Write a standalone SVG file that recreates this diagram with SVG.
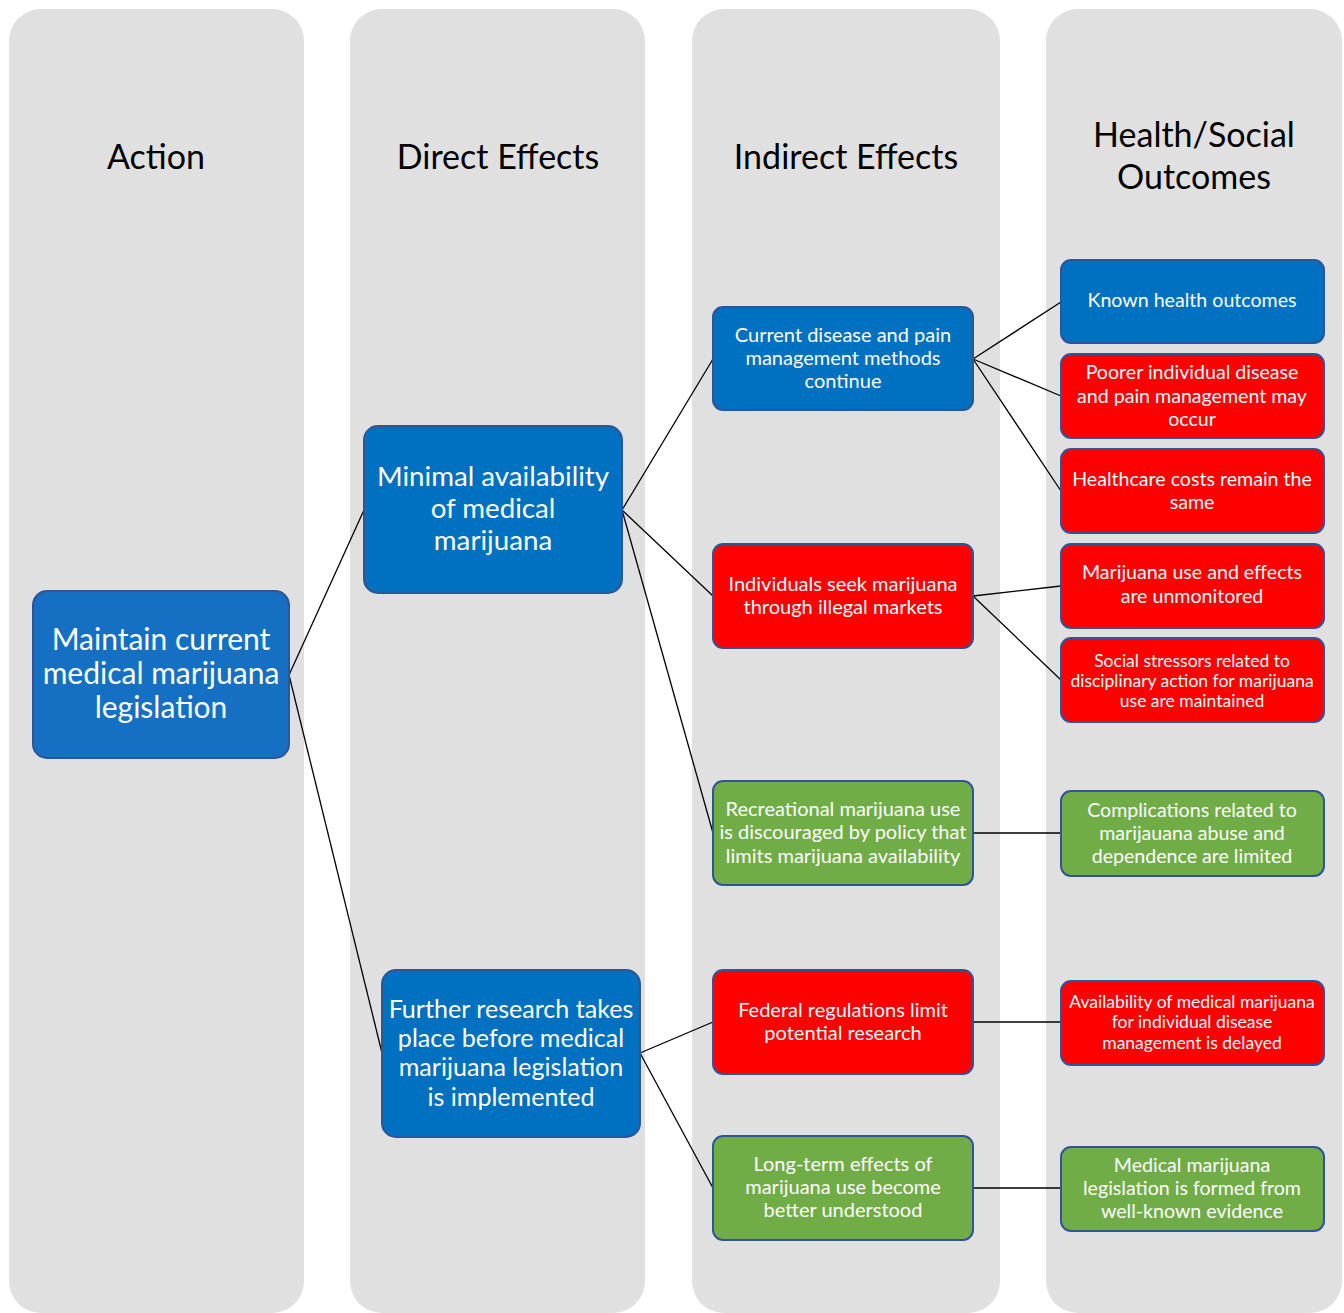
<svg xmlns="http://www.w3.org/2000/svg" width="1344" height="1313" viewBox="0 0 1344 1313">
<style>
.col{fill:#e0e0e0}
.hdr{font-family:Lato,"Open Sans",sans-serif;font-size:34px;fill:#000;text-anchor:middle}
.box{stroke:#2f5597;stroke-width:2}
.blue{fill:#0070c0}
.red{fill:#ff0000}
.green{fill:#70ad47}
.t{font-family:Lato,"Open Sans",sans-serif;fill:#fff;text-anchor:middle}
.conn line{stroke:#000;stroke-width:1.3}
</style>
<g id="columns">
<rect class="col" x="9" y="9" width="295" height="1304" rx="32"/>
<rect class="col" x="350" y="9" width="295" height="1304" rx="32"/>
<rect class="col" x="692" y="9" width="308" height="1304" rx="32"/>
<rect class="col" x="1046" y="9" width="296" height="1304" rx="32"/>
<text class="hdr" x="156" y="169">Action</text>
<text class="hdr" x="498" y="169">Direct Effects</text>
<text class="hdr" x="846" y="169">Indirect Effects</text>
<text class="hdr" x="1194" y="147">Health/Social</text>
<text class="hdr" x="1194" y="189">Outcomes</text>
</g>
<g id="connectors" class="conn">
<line x1="289" y1="675" x2="364" y2="510"/>
<line x1="289" y1="675" x2="382" y2="1053"/>
<line x1="622" y1="510" x2="713" y2="359"/>
<line x1="622" y1="510" x2="713" y2="596"/>
<line x1="622" y1="510" x2="713" y2="833"/>
<line x1="640" y1="1053" x2="713" y2="1022"/>
<line x1="640" y1="1053" x2="713" y2="1188"/>
<line x1="973" y1="359" x2="1061" y2="302"/>
<line x1="973" y1="359" x2="1061" y2="396"/>
<line x1="973" y1="359" x2="1061" y2="491"/>
<line x1="973" y1="596" x2="1061" y2="586"/>
<line x1="973" y1="596" x2="1061" y2="680"/>
<line x1="973" y1="833" x2="1061" y2="833"/>
<line x1="973" y1="1022" x2="1061" y2="1022"/>
<line x1="973" y1="1188" x2="1061" y2="1188"/>
</g>
<g id="n-maintain">
<rect class="box" x="33" y="591" width="256" height="167" rx="14" fill="#1570c4"/>
<text class="t" font-size="30"><tspan x="161" y="650">Maintain current</tspan><tspan x="161" y="684">medical marijuana</tspan><tspan x="161" y="718">legislation</tspan></text>
</g>
<g id="n-minimal">
<rect class="box blue" x="364" y="426" width="258" height="167" rx="14"/>
<text class="t" font-size="27.7"><tspan x="493" y="486">Minimal availability</tspan><tspan x="493" y="518">of medical</tspan><tspan x="493" y="550">marijuana</tspan></text>
</g>
<g id="n-further">
<rect class="box blue" x="382" y="970" width="258" height="167" rx="14"/>
<text class="t" font-size="25.1"><tspan x="511" y="1018">Further research takes</tspan><tspan x="511" y="1047">place before medical</tspan><tspan x="511" y="1076">marijuana legislation</tspan><tspan x="511" y="1106">is implemented</tspan></text>
</g>
<g id="n-current">
<rect class="box blue" x="713" y="307" width="260" height="103" rx="10"/>
<text class="t" font-size="20"><tspan x="843" y="342">Current disease and pain</tspan><tspan x="843" y="365">management methods</tspan><tspan x="843" y="388">continue</tspan></text>
</g>
<g id="n-individuals">
<rect class="box red" x="713" y="544" width="260" height="104" rx="10"/>
<text class="t" font-size="20"><tspan x="843" y="591">Individuals seek marijuana</tspan><tspan x="843" y="614">through illegal markets</tspan></text>
</g>
<g id="n-recreational">
<rect class="box green" x="713" y="781" width="260" height="104" rx="10"/>
<text class="t" font-size="20"><tspan x="843" y="816">Recreational marijuana use</tspan><tspan x="843" y="839">is discouraged by policy that</tspan><tspan x="843" y="863">limits marijuana availability</tspan></text>
</g>
<g id="n-federal">
<rect class="box red" x="713" y="970" width="260" height="104" rx="10"/>
<text class="t" font-size="20"><tspan x="843" y="1017">Federal regulations limit</tspan><tspan x="843" y="1040">potential research</tspan></text>
</g>
<g id="n-longterm">
<rect class="box green" x="713" y="1136" width="260" height="104" rx="10"/>
<text class="t" font-size="20"><tspan x="843" y="1171">Long-term effects of</tspan><tspan x="843" y="1194">marijuana use become</tspan><tspan x="843" y="1217">better understood</tspan></text>
</g>
<g id="n-known">
<rect class="box blue" x="1061" y="260" width="263" height="83" rx="10"/>
<text class="t" font-size="19.6"><tspan x="1192" y="307">Known health outcomes</tspan></text>
</g>
<g id="n-poorer">
<rect class="box red" x="1061" y="354" width="263" height="84" rx="10"/>
<text class="t" font-size="19.6"><tspan x="1192" y="379">Poorer individual disease</tspan><tspan x="1192" y="403">and pain management may</tspan><tspan x="1192" y="426">occur</tspan></text>
</g>
<g id="n-healthcare">
<rect class="box red" x="1061" y="449" width="263" height="84" rx="10"/>
<text class="t" font-size="19.6"><tspan x="1192" y="486">Healthcare costs remain the</tspan><tspan x="1192" y="509">same</tspan></text>
</g>
<g id="n-unmonitored">
<rect class="box red" x="1061" y="544" width="263" height="84" rx="10"/>
<text class="t" font-size="19.6"><tspan x="1192" y="579">Marijuana use and effects</tspan><tspan x="1192" y="603">are unmonitored</tspan></text>
</g>
<g id="n-social">
<rect class="box red" x="1061" y="638" width="263" height="84" rx="10"/>
<text class="t" font-size="17.5"><tspan x="1192" y="667">Social stressors related to</tspan><tspan x="1192" y="687">disciplinary action for marijuana</tspan><tspan x="1192" y="707">use are maintained</tspan></text>
</g>
<g id="n-complications">
<rect class="box green" x="1061" y="791" width="263" height="85" rx="10"/>
<text class="t" font-size="19.6"><tspan x="1192" y="817">Complications related to</tspan><tspan x="1192" y="840">marijauana abuse and</tspan><tspan x="1192" y="863">dependence are limited</tspan></text>
</g>
<g id="n-availability">
<rect class="box red" x="1061" y="981" width="263" height="84" rx="10"/>
<text class="t" font-size="17.5"><tspan x="1192" y="1008">Availability of medical marijuana</tspan><tspan x="1192" y="1028">for individual disease</tspan><tspan x="1192" y="1049">management is delayed</tspan></text>
</g>
<g id="n-medical">
<rect class="box green" x="1061" y="1147" width="263" height="84" rx="10"/>
<text class="t" font-size="19.6"><tspan x="1192" y="1172">Medical marijuana</tspan><tspan x="1192" y="1195">legislation is formed from</tspan><tspan x="1192" y="1218">well-known evidence</tspan></text>
</g>
</svg>
